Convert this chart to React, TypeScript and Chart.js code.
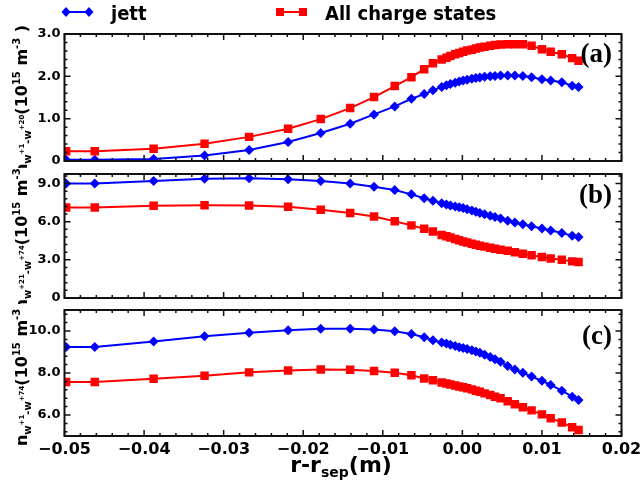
import React, { useEffect, useRef } from 'react';
import { Chart, registerables } from 'chart.js';
Chart.register(...registerables);

// ---- data ----
const xPos = [
  -0.0498, -0.0462, -0.0388, -0.0324, -0.0268, -0.0219, -0.0178, -0.0141, -0.0111,
  -0.0085, -0.0064, -0.0048, -0.0037,
  -0.0026, -0.0020, -0.0015, -0.0009, -0.0004, 0.0001, 0.0006, 0.0012, 0.0017, 0.0022, 0.0028, 0.0035, 0.0041, 0.0048,
  0.0057, 0.0066, 0.0076, 0.0087, 0.0100, 0.0111, 0.0125, 0.0138, 0.0146,
];
const jettA = [
  0.03, 0.03, 0.05, 0.13, 0.26, 0.45, 0.66, 0.88, 1.10,
  1.29, 1.47, 1.58, 1.67,
  1.75, 1.79, 1.82, 1.85, 1.88, 1.90, 1.92, 1.94, 1.96, 1.97, 1.99, 2.00, 2.01, 2.02,
  2.02, 2.02, 2.01, 1.98, 1.93, 1.90, 1.86, 1.78, 1.75,
];
const allA = [
  0.23, 0.23, 0.29, 0.41, 0.57, 0.76, 0.99, 1.25, 1.51,
  1.77, 1.98, 2.17, 2.31,
  2.40, 2.44, 2.48, 2.52, 2.55, 2.58, 2.61, 2.63, 2.66, 2.68, 2.70, 2.72, 2.74, 2.75,
  2.76, 2.76, 2.76, 2.72, 2.64, 2.58, 2.52, 2.43, 2.37,
];
const jettB = [
  9.0, 9.0, 9.2, 9.38, 9.41, 9.34, 9.2, 9.0, 8.74,
  8.49, 8.15, 7.84, 7.64,
  7.45, 7.36, 7.28, 7.20, 7.13, 7.07, 6.98, 6.88, 6.78, 6.68, 6.58, 6.46, 6.36, 6.25,
  6.08, 5.93, 5.79, 5.64, 5.47, 5.30, 5.12, 4.90, 4.80,
];
const allB = [
  7.12, 7.12, 7.25, 7.30, 7.28, 7.18, 6.94, 6.68, 6.40,
  6.04, 5.71, 5.45, 5.22,
  4.96, 4.85, 4.75, 4.64, 4.54, 4.44, 4.36, 4.27, 4.19, 4.11, 4.04, 3.95, 3.88, 3.80,
  3.72, 3.60, 3.48, 3.36, 3.22, 3.10, 3.01, 2.88, 2.83,
];
const jettC = [
  9.24, 9.24, 9.50, 9.75, 9.92, 10.03, 10.11, 10.11, 10.07,
  9.99, 9.86, 9.70, 9.56,
  9.45, 9.40, 9.34, 9.28, 9.23, 9.19, 9.14, 9.08, 9.02, 8.96, 8.87, 8.76, 8.65, 8.53,
  8.33, 8.17, 8.01, 7.83, 7.63, 7.43, 7.16, 6.87, 6.72,
];
const allC = [
  7.57, 7.57, 7.73, 7.87, 8.03, 8.12, 8.17, 8.15, 8.09,
  8.01, 7.89, 7.74, 7.65,
  7.55, 7.50, 7.45, 7.40, 7.36, 7.32, 7.27, 7.22, 7.16, 7.11, 7.03, 6.95, 6.87, 6.80,
  6.66, 6.51, 6.37, 6.22, 6.03, 5.85, 5.64, 5.42, 5.29,
];
const xTicks = [-0.05, -0.04, -0.03, -0.02, -0.01, 0.0, 0.01, 0.02];
const xTickLabels = ['\u22120.05', '\u22120.04', '\u22120.03', '\u22120.02', '\u22120.01', '0.00', '0.01', '0.02'];
const yTicksA = [0, 1, 2, 3];
const yLabelsA = ['0', '1.0', '2.0', '3.0'];
const yTicksB = [0, 3, 6, 9];
const yLabelsB = ['0', '3.0', '6.0', '9.0'];
const yTicksC = [6, 8, 10];
const yLabelsC = ['6.0', '8.0', '10.0'];
const seriesNames = ['jett', 'All charge states'];

const FONT = "'DejaVu Sans', sans-serif";
const LEGEND_FONT = "'DejaVu Sans Condensed', 'DejaVu Sans', sans-serif";
const BLUE = '#0000ff';
const RED = '#ff0000';

type Seg = { t: string; size: number; dy: number };

function drawRich(ctx: CanvasRenderingContext2D, segs: Seg[], x: number, y: number) {
  let cx = x;
  for (const s of segs) {
    ctx.font = `bold ${s.size}px ${FONT}`;
    ctx.fillText(s.t, cx, y + s.dy);
    cx += ctx.measureText(s.t).width;
  }
}
function richWidth(ctx: CanvasRenderingContext2D, segs: Seg[]) {
  let w = 0;
  for (const s of segs) {
    ctx.font = `bold ${s.size}px ${FONT}`;
    w += ctx.measureText(s.t).width;
  }
  return w;
}

function yTitleSegs(a: string, b: string): Seg[] {
  return [
    { t: 'n', size: 16, dy: 0 },
    { t: 'w', size: 10, dy: 4 },
    { t: a, size: 7, dy: -3 },
    { t: '-w', size: 10, dy: 4 },
    { t: b, size: 7, dy: -3 },
    { t: '(10', size: 16, dy: 0 },
    { t: '15', size: 10, dy: -7 },
    { t: ' m', size: 16, dy: 0 },
    { t: '-3', size: 10, dy: -7 },
    { t: ' )', size: 16, dy: 0 },
  ];
}

type PanelCfg = {
  top: number; height: number; padTop: number; padBottom: number;
  ymin: number; ymax: number; yTicks: number[]; yLabels: string[]; minor: number;
  jett: number[]; all: number[]; tag: string; tagY: number;
  sup1: string; sup2: string; titleY: number; showX: boolean; legend: boolean;
};

const panels: PanelCfg[] = [
  { top: 0, height: 168, padTop: 34, padBottom: 7, ymin: 0, ymax: 3, yTicks: yTicksA, yLabels: yLabelsA, minor: 0.2,
    jett: jettA, all: allA, tag: '(a)', tagY: 55, sup1: '+1', sup2: '+20', titleY: 100, showX: false, legend: true },
  { top: 168, height: 136, padTop: 4, padBottom: 5.7, ymin: 0, ymax: 9.75, yTicks: yTicksB, yLabels: yLabelsB, minor: 0.6,
    jett: jettB, all: allB, tag: '(b)', tagY: 196, sup1: '+21', sup2: '+74', titleY: 233, showX: false, legend: false },
  { top: 304, height: 184, padTop: 6, padBottom: 0, ymin: 5, ymax: 11, yTicks: yTicksC, yLabels: yLabelsC, minor: 0.4,
    jett: jettC, all: allC, tag: '(c)', tagY: 337, sup1: '+1', sup2: '+74', titleY: 371, showX: true, legend: false },
];

function makePlugin(p: PanelCfg) {
  return {
    id: 'deco' + p.tag.replace(/[()]/g, ''),
    afterDraw(chart: any) {
      const ctx: CanvasRenderingContext2D = chart.ctx;
      const a = chart.chartArea;
      const xs = chart.scales.x;
      const ys = chart.scales.y;
      const off = p.top;
      ctx.save();
      ctx.strokeStyle = '#111';
      ctx.lineWidth = 1.5;
      ctx.beginPath();
      for (let i = -25; i <= 10; i++) {
        const px = xs.getPixelForValue(i * 0.002);
        const len = i % 5 === 0 ? 6 : 3;
        ctx.moveTo(px, a.bottom); ctx.lineTo(px, a.bottom - len);
        ctx.moveTo(px, a.top); ctx.lineTo(px, a.top + len);
      }
      const k0 = Math.ceil(p.ymin / p.minor - 1e-6);
      const k1 = Math.floor(p.ymax / p.minor + 1e-6);
      for (let k = k0; k <= k1; k++) {
        const v = k * p.minor;
        const major = p.yTicks.some((t) => Math.abs(t - v) < 1e-6);
        const py = ys.getPixelForValue(v);
        const len = major ? 6 : 3;
        ctx.moveTo(a.left, py); ctx.lineTo(a.left + len, py);
        ctx.moveTo(a.right, py); ctx.lineTo(a.right - len, py);
      }
      ctx.stroke();
      ctx.lineWidth = 2;
      ctx.strokeRect(a.left, a.top, a.right - a.left, a.bottom - a.top);

      ctx.fillStyle = '#000';
      ctx.font = "bold 27px 'Liberation Serif', serif";
      ctx.textAlign = 'right';
      ctx.textBaseline = 'middle';
      ctx.fillText(p.tag, 612, p.tagY - off);

      ctx.textAlign = 'left';
      ctx.textBaseline = 'alphabetic';
      const segs = yTitleSegs(p.sup1, p.sup2);
      ctx.save();
      ctx.translate(27, p.titleY - off);
      ctx.rotate(-Math.PI / 2);
      const w = richWidth(ctx, segs);
      drawRich(ctx, segs, -w / 2, 0);
      ctx.restore();

      if (p.showX) {
        const xsegs: Seg[] = [
          { t: 'r-r', size: 22, dy: 0 },
          { t: 'sep', size: 14, dy: 5 },
          { t: '(m)', size: 22, dy: 0 },
        ];
        const w2 = richWidth(ctx, xsegs);
        drawRich(ctx, xsegs, 341 - w2 / 2, 472 - off);
      }

      if (p.legend) {
        const ly = 12;
        ctx.strokeStyle = BLUE; ctx.fillStyle = BLUE; ctx.lineWidth = 2;
        ctx.beginPath(); ctx.moveTo(66, ly); ctx.lineTo(89, ly); ctx.stroke();
        for (const cx of [66, 89]) {
          ctx.beginPath();
          ctx.moveTo(cx, ly - 5); ctx.lineTo(cx + 4.5, ly); ctx.lineTo(cx, ly + 5); ctx.lineTo(cx - 4.5, ly);
          ctx.closePath(); ctx.fill();
        }
        ctx.strokeStyle = RED; ctx.fillStyle = RED;
        ctx.beginPath(); ctx.moveTo(280, ly); ctx.lineTo(303, ly); ctx.stroke();
        for (const cx of [280, 303]) ctx.fillRect(cx - 4, ly - 4, 8, 8);
        ctx.fillStyle = '#000';
        ctx.font = `bold 20px ${LEGEND_FONT}`;
        ctx.textAlign = 'left';
        ctx.fillText(seriesNames[0], 111, 20);
        ctx.fillText(seriesNames[1], 325, 20);
      }
      ctx.restore();
    },
  };
}

function buildChart(canvas: HTMLCanvasElement, p: PanelCfg) {
  const toPts = (arr: number[]) => arr.map((y, i) => ({ x: xPos[i], y }));
  return new Chart(canvas, {
    type: 'line',
    data: {
      datasets: [
        {
          label: seriesNames[1], data: toPts(p.all), borderColor: RED, backgroundColor: RED,
          borderWidth: 2, pointStyle: 'rect', pointRadius: 6, pointBorderWidth: 0, tension: 0,
        },
        {
          label: seriesNames[0], data: toPts(p.jett), borderColor: BLUE, backgroundColor: BLUE,
          borderWidth: 2, pointStyle: 'rectRot', pointRadius: 5, pointBorderWidth: 0, tension: 0,
        },
      ],
    },
    options: {
      animation: false,
      responsive: false,
      maintainAspectRatio: false,
      events: [],
      layout: { padding: { top: p.padTop, bottom: p.padBottom, left: 0, right: 22.5 } },
      plugins: { legend: { display: false }, tooltip: { enabled: false } },
      scales: {
        x: {
          type: 'linear', min: -0.05, max: 0.02, display: p.showX,
          grid: { display: false, drawTicks: false }, border: { display: false },
          afterBuildTicks: (s: any) => { s.ticks = xTicks.map((v) => ({ value: v })); },
          afterFit: (s: any) => {
            if (p.showX) s.height = 52;
            s.paddingLeft = 0; s.paddingRight = 0; s.paddingTop = 0; s.paddingBottom = 0;
          },
          ticks: {
            autoSkip: false, maxRotation: 0, padding: 4, color: '#000',
            font: { family: FONT, weight: 'bold', size: 16 },
            callback: (_v: any, i: number) => xTickLabels[i],
          },
        },
        y: {
          type: 'linear', min: p.ymin, max: p.ymax,
          grid: { display: false, drawTicks: false }, border: { display: false },
          afterBuildTicks: (s: any) => { s.ticks = p.yTicks.map((v) => ({ value: v })); },
          afterFit: (s: any) => {
            s.width = 64.5;
            s.paddingLeft = 0; s.paddingRight = 0; s.paddingTop = 0; s.paddingBottom = 0;
          },
          ticks: {
            autoSkip: false, padding: 4, color: '#000',
            font: { family: FONT, weight: 'bold', size: 13 },
            callback: (_v: any, i: number) => p.yLabels[i],
          },
        },
      },
    },
    plugins: [makePlugin(p)],
  } as any);
}

export default function App() {
  const r0 = useRef<HTMLCanvasElement>(null);
  const r1 = useRef<HTMLCanvasElement>(null);
  const r2 = useRef<HTMLCanvasElement>(null);
  useEffect(() => {
    const refs = [r0, r1, r2];
    const charts = panels.map((p, i) => buildChart(refs[i].current as HTMLCanvasElement, p));
    return () => charts.forEach((c) => c.destroy());
  }, []);
  const refs = [r0, r1, r2];
  return (
    <div style={{ position: 'absolute', left: 0, top: 0, width: 644, height: 488, background: '#fff' }}>
      {panels.map((p, i) => (
        <canvas
          key={p.tag}
          ref={refs[i]}
          width={644}
          height={p.height}
          style={{ position: 'absolute', left: 0, top: p.top, width: 644, height: p.height }}
        />
      ))}
    </div>
  );
}
